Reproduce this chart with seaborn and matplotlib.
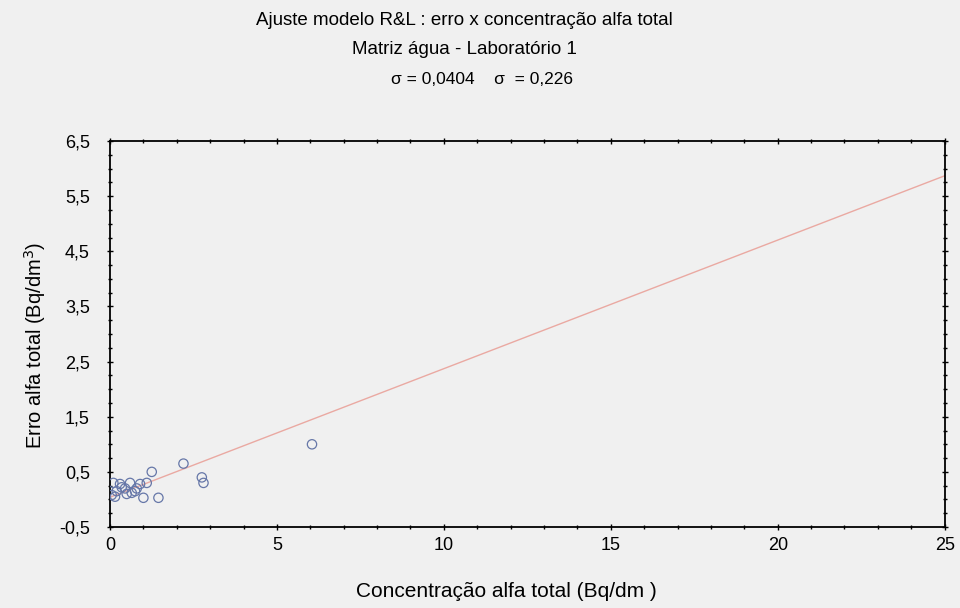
import numpy as np
import pandas as pd
import matplotlib
matplotlib.use("Agg")
import matplotlib.pyplot as plt
import seaborn as sns
from matplotlib.ticker import MultipleLocator

# data
conc = [0.1, 0.15, 0.3, 0.45, 0.6, 0.75, 0.9, 1.1, 0.2, 0.5, 0.8, 0.05, 0.35,
        0.65, 1.0, 1.45, 1.25, 2.2, 2.75, 2.8, 6.05]
erro = [0.3, 0.05, 0.28, 0.2, 0.3, 0.15, 0.28, 0.3, 0.15, 0.1, 0.2, 0.08, 0.22,
        0.12, 0.03, 0.03, 0.5, 0.65, 0.4, 0.3, 1.0]
fit_x = [0, 25]
fit_y = [0.04, 5.87]

xticks = [0, 5, 10, 15, 20, 25]
xtick_labels = ["0", "5", "10", "15", "20", "25"]
yticks = [-0.5, 0.5, 1.5, 2.5, 3.5, 4.5, 5.5, 6.5]
ytick_labels = ["-0,5", "0,5", "1,5", "2,5", "3,5", "4,5", "5,5", "6,5"]

bg = "#f0f0f0"
sns.set_style("ticks", {"axes.facecolor": bg, "figure.facecolor": bg,
                        "text.color": "black", "axes.labelcolor": "black",
                        "xtick.color": "black", "ytick.color": "black"})
plt.rcParams["font.family"] = ["Liberation Sans", "DejaVu Sans"]

df = pd.DataFrame({"conc": conc, "erro": erro})
fit = pd.DataFrame({"x": fit_x, "y": fit_y})

fig = plt.figure(figsize=(9.6, 6.08), dpi=100)
ax = fig.add_axes([0.1146, 0.1332, 0.8694, 0.6348])

sns.lineplot(data=fit, x="x", y="y", ax=ax, color="#eaa9a2", linewidth=1.0)
sns.scatterplot(data=df, x="conc", y="erro", ax=ax, marker="o", s=45,
                facecolors="none", edgecolor="#6677a8", linewidth=0.9, zorder=3)

ax.set_xlim(0, 25)
ax.set_ylim(-0.5, 6.5)
ax.set_xticks(xticks)
ax.set_xticklabels(xtick_labels, fontsize=13)
ax.set_yticks(yticks)
ax.set_yticklabels(ytick_labels, fontsize=13)
ax.xaxis.set_minor_locator(MultipleLocator(1))
ax.yaxis.set_minor_locator(MultipleLocator(0.25))
ax.tick_params(which="both", direction="inout", top=True, right=True, width=1)
ax.tick_params(which="major", length=5, pad=5)
ax.tick_params(axis="y", which="major", pad=12)
ax.tick_params(which="minor", length=3)
for s in ax.spines.values():
    s.set_linewidth(1.3)
    s.set_color("black")

ax.set_xlabel("Concentração alfa total (Bq/dm )", fontsize=15)
ax.set_ylabel("Erro alfa total (Bq/dm$^3$)", fontsize=14.5)
ax.xaxis.set_label_coords(0.475, -0.143)
ax.yaxis.set_label_coords(-0.074, 0.47)

fig.text(0.484, 0.966, "Ajuste modelo R&L : erro x concentração alfa total",
         ha="center", va="center", fontsize=13.5)
fig.text(0.484, 0.918, "Matriz água - Laboratório 1",
         ha="center", va="center", fontsize=13.5)
fig.text(0.502, 0.869, "σ = 0,0404    σ  = 0,226",
         ha="center", va="center", fontsize=12.5)

plt.savefig("out.png", dpi=100, facecolor=bg)
